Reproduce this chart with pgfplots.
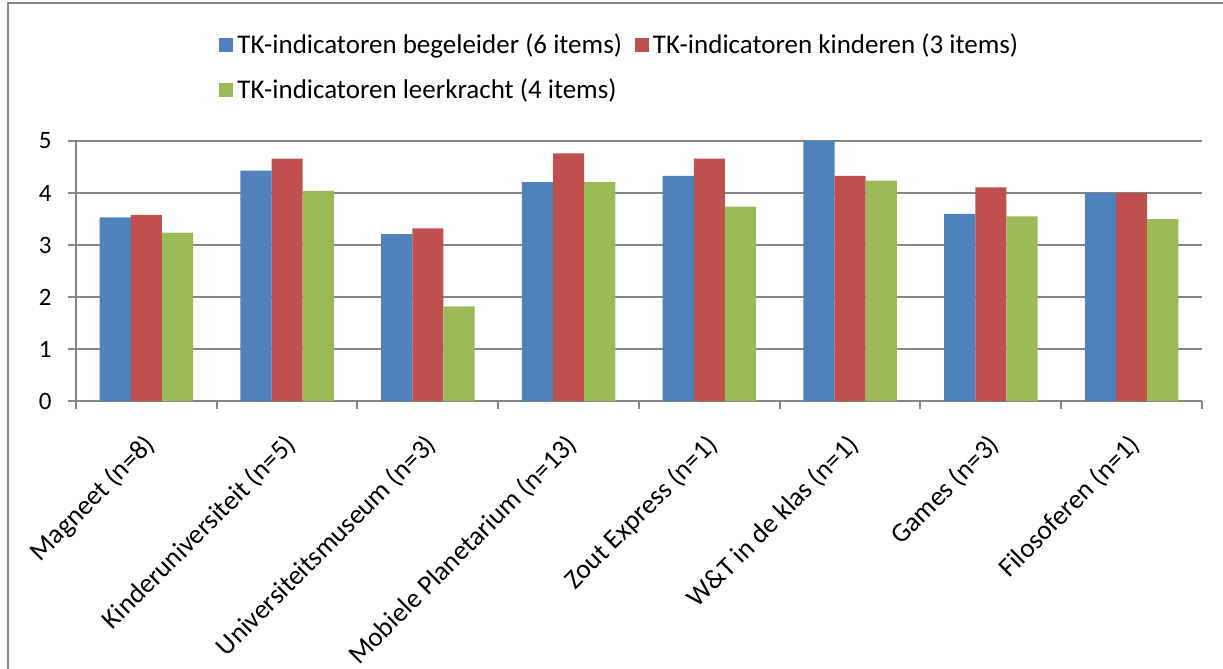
\documentclass[border=0pt]{standalone}
\usepackage{fontspec}
\setmainfont{Carlito}
\usepackage{pgfplots}
\pgfplotsset{compat=1.18}
\definecolor{cb}{HTML}{4F81BD}
\definecolor{cr}{HTML}{C0504D}
\definecolor{cg}{HTML}{9BBB59}
\definecolor{gridc}{HTML}{868686}
\begin{document}
\begin{tikzpicture}
\path[use as bounding box] (-38bp,-134bp) rectangle (573.5bp,200.5bp);
\draw[gridc, line width=1bp] (-34bp,-140bp) -- (-34bp,199bp) -- (580bp,199bp);
\begin{axis}[
  at={(0,0)}, anchor=south west,
  scale only axis, width=563bp, height=130bp,
  xmin=-0.5, xmax=7.5, ymin=0, ymax=5,
  ybar=0pt, bar width=15.6bp,
  axis x line*=bottom, axis y line*=left,
  axis line style={gridc, line width=1bp},
  xtick={0,...,7},
  xticklabels={Magneet (n=8),Kinderuniversiteit (n=5),Universiteitsmuseum (n=3),Mobiele Planetarium (n=13),Zout Express (n=1),W\&T in de klas (n=1),Games (n=3),Filosoferen (n=1)},
  major x tick style={draw=none},
  minor xtick={-0.5,0.5,...,7.5},
  minor x tick style={gridc, line width=1bp},
  tick align=outside, major tick length=4bp, minor tick length=4bp,
  ytick={0,...,5},
  y tick style={gridc, line width=1bp},
  ymajorgrids, grid style={gridc, line width=1bp},
  /pgf/number format/assume math mode=true,
  tick label style={text=black},
  xticklabel style={font=\fontsize{13.6bp}{16bp}\selectfont, rotate=45, anchor=north east, inner sep=0pt, xshift=-9.5bp, yshift=-6.5bp},
  yticklabel style={font=\fontsize{12.5bp}{15bp}\selectfont, inner sep=0pt, xshift=-8bp},
  legend columns=2,
  legend cell align=left,
  legend style={draw=none, fill=none, at={(axis description cs:0,1)}, anchor=north west,
    xshift=71.5bp, yshift=56bp, inner sep=0pt,
    font=\fontsize{13.5bp}{16bp}\selectfont,
    /tikz/every even column/.append style={column sep=4.5bp},
    row sep=7.5bp},
  legend image code/.code={\fill[#1] (0bp,-3.5bp) rectangle (7bp,3.5bp);},
]
\addplot[fill=cb, draw=none] coordinates {(0,3.53) (1,4.43) (2,3.21) (3,4.21) (4,4.33) (5,5.0) (6,3.60) (7,4.0)};
\addplot[fill=cr, draw=none] coordinates {(0,3.58) (1,4.66) (2,3.32) (3,4.76) (4,4.66) (5,4.33) (6,4.11) (7,4.0)};
\addplot[fill=cg, draw=none] coordinates {(0,3.24) (1,4.04) (2,1.82) (3,4.21) (4,3.74) (5,4.24) (6,3.55) (7,3.5)};
\legend{TK-indicatoren begeleider (6 items),TK-indicatoren kinderen (3 items),TK-indicatoren leerkracht (4 items)}
\end{axis}
\end{tikzpicture}
\end{document}
